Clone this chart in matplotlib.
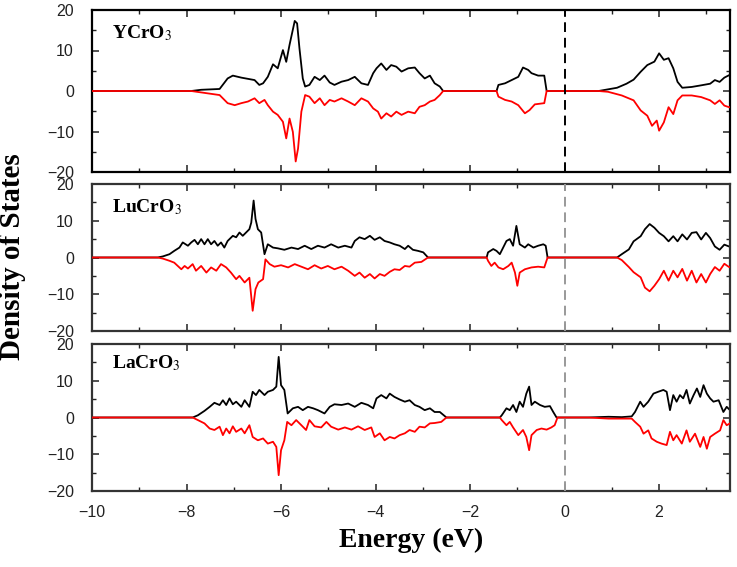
import matplotlib
matplotlib.use("Agg")
import matplotlib.pyplot as plt
from matplotlib.ticker import MultipleLocator

plt.rcParams['font.family'] = ['Liberation Sans', 'DejaVu Sans']
plt.rcParams['mathtext.fontset'] = 'stix'

# -----------------------
# DOS data, energies in eV
# -----------------------
# YCrO3
y_up_e = [-10, -7.9, -7.69, -7.30, -7.13, -7.02, -6.84, -6.70, -6.56, -6.46,
          -6.38, -6.28, -6.17, -6.07, -5.96, -5.89, -5.82, -5.71, -5.66, -5.61,
          -5.54, -5.49, -5.40, -5.29, -5.18, -5.08, -4.97, -4.87, -4.72, -4.58,
          -4.44, -4.30, -4.16, -4.05, -3.98, -3.88, -3.77, -3.67, -3.56, -3.45,
          -3.31, -3.17, -3.07, -2.96, -2.85, -2.75, -2.64, -2.57,
          -1.44, -1.40, -1.26, -1.12, -0.98, -0.88, -0.77, -0.70, -0.56, -0.43,
          -0.38, 0.72, 1.11, 1.31, 1.46, 1.61, 1.75, 1.90, 2.00, 2.10,
          2.20, 2.30, 2.39, 2.49, 2.69, 2.89, 3.08, 3.18, 3.28, 3.38, 3.48, 3.5]
y_up = [0, 0, 0.3, 0.5, 3.1, 3.8, 3.3, 3.0, 2.7, 1.5,
        1.9, 3.5, 6.6, 5.6, 10.1, 7.2, 11.4, 17.3, 16.7, 10.5,
        3.1, 1.1, 1.5, 3.5, 2.7, 3.8, 2.1, 1.5, 2.3, 2.7,
        3.5, 1.9, 1.5, 4.4, 5.6, 6.8, 5.2, 6.4, 6.0, 4.8,
        5.6, 5.8, 4.4, 3.1, 3.8, 1.9, 1.1, 0,
        0, 1.5, 1.9, 2.7, 3.5, 5.8, 5.2, 4.4, 3.8, 3.8,
        0, 0, 0.8, 1.8, 2.8, 4.75, 6.4, 7.25, 9.3, 7.7,
        8.1, 5.6, 2.25, 0.8, 1.0, 1.4, 1.8, 2.7, 2.25, 3.3, 3.9, 3.9]
y_dn_e = [-10, -7.9, -7.30, -7.13, -6.98, -6.84, -6.70, -6.56, -6.46, -6.35, -6.28,
          -6.17, -6.07, -5.96, -5.89, -5.82, -5.75, -5.69, -5.64, -5.57, -5.49,
          -5.40, -5.29, -5.18, -5.08, -4.97, -4.87, -4.72, -4.58, -4.44, -4.30,
          -4.16, -4.05, -3.95, -3.88, -3.77, -3.67, -3.56, -3.45, -3.31, -3.17,
          -3.07, -2.96, -2.85, -2.75, -2.64, -2.57,
          -1.44, -1.40, -1.26, -1.12, -0.98, -0.84, -0.74, -0.63, -0.43, -0.38,
          0.72, 0.92, 1.21, 1.46, 1.61, 1.75, 1.85, 1.95, 2.00, 2.10,
          2.20, 2.30, 2.39, 2.49, 2.69, 2.89, 3.08, 3.18, 3.28, 3.38, 3.48, 3.5]
y_dn = [0, 0, -1, -3, -3.5, -3, -2.6, -1.8, -3, -2.2, -3.5,
        -5.1, -5.9, -7.6, -11.7, -6.8, -10.1, -17.4, -14.2, -5.1, -1,
        -1.4, -3, -1.8, -3.5, -2.2, -2.6, -1.8, -2.6, -3.5, -1.8,
        -2.6, -4.3, -5.1, -6.8, -5.5, -6.3, -5.1, -5.9, -5.1, -5.5,
        -3.9, -3.5, -2.6, -2.2, -1, 0,
        0, -1.4, -2.2, -2.6, -3.5, -5.5, -4.7, -3.3, -3, 0,
        0, -0.2, -1.1, -2.3, -4.8, -6.1, -8.6, -7.3, -9.8, -7.75,
        -4, -5.7, -2.3, -1.1, -1.1, -1.5, -2.3, -3.2, -2.3, -3.6, -4, -4]

# LuCrO3
lu_up_e = [-10, -8.61, -8.50, -8.36, -8.26, -8.15, -8.08, -7.97, -7.90, -7.83,
           -7.76, -7.69, -7.62, -7.55, -7.48, -7.41, -7.34, -7.27, -7.20, -7.13,
           -7.02, -6.95, -6.88, -6.81, -6.74, -6.67, -6.63, -6.58, -6.54, -6.49,
           -6.42, -6.35, -6.28, -6.17, -6.07, -5.93, -5.78, -5.64, -5.50, -5.36,
           -5.22, -5.08, -4.94, -4.79, -4.65, -4.51, -4.44, -4.34, -4.23, -4.12,
           -4.02, -3.91, -3.81, -3.70, -3.60, -3.49, -3.38, -3.31, -3.21, -3.10,
           -2.99, -2.89,
           -1.65, -1.62, -1.51, -1.44, -1.37, -1.30, -1.23, -1.16,
           -1.09, -1.02, -0.95, -0.84, -0.77, -0.66, -0.56, -0.45, -0.40, -0.36,
           1.11, 1.21, 1.36, 1.46, 1.61, 1.70, 1.80, 1.90, 2.00, 2.10,
           2.20, 2.30, 2.39, 2.49, 2.59, 2.69, 2.79, 2.89, 2.99, 3.08,
           3.18, 3.28, 3.38, 3.48, 3.5]
lu_up = [0, 0, 0.3, 0.9, 1.8, 2.7, 4.1, 3.2, 4.1, 4.8,
         3.6, 5.0, 3.6, 5.0, 3.6, 4.5, 3.2, 4.1, 2.7, 4.5,
         5.9, 5.5, 6.8, 5.9, 6.8, 7.7, 9.5, 15.5, 10.5, 7.7,
         6.8, 0.9, 3.6, 2.7, 2.5, 2.1, 2.7, 2.3, 3.2, 2.3,
         3.2, 2.7, 3.6, 2.7, 3.2, 2.7, 4.5, 5.5, 5.0, 5.9,
         4.8, 5.5, 4.5, 4.1, 3.6, 3.2, 2.3, 3.2, 2.1, 1.8,
         1.4, 0,
         0, 1.4, 2.3, 1.8, 0.9, 2.7, 4.5, 5.0,
         3.2, 8.6, 3.6, 2.7, 3.6, 2.7, 3.2, 3.6, 3.2, 0,
         0, 0.9, 2.2, 4.4, 5.8, 7.7, 9.1, 8.1, 6.7, 5.8,
         4.4, 5.8, 4.4, 6.3, 4.9, 6.7, 6.9, 4.9, 6.7, 5.3,
         3.0, 2.1, 3.5, 3.0, 3.0]
lu_dn_e = [-10, -8.61, -8.50, -8.36, -8.26, -8.11, -8.04, -7.97, -7.87, -7.80,
           -7.69, -7.58, -7.48, -7.37, -7.27, -7.16, -7.06, -6.95, -6.88, -6.77,
           -6.67, -6.60, -6.54, -6.48, -6.38, -6.33, -6.24, -6.14, -6.00, -5.85,
           -5.71, -5.57, -5.43, -5.29, -5.15, -5.01, -4.87, -4.72, -4.58, -4.44,
           -4.34, -4.23, -4.12, -4.02, -3.91, -3.81, -3.70, -3.60, -3.49, -3.38,
           -3.28, -3.17, -3.03, -2.89,
           -1.65, -1.62, -1.55, -1.48, -1.40, -1.30,
           -1.19, -1.12, -1.05, -1.00, -0.95, -0.84, -0.70, -0.56, -0.43, -0.36,
           1.11, 1.21, 1.36, 1.46, 1.61, 1.70, 1.80, 1.90, 2.00, 2.10,
           2.20, 2.30, 2.39, 2.49, 2.59, 2.69, 2.79, 2.89, 2.99, 3.08,
           3.18, 3.28, 3.38, 3.48, 3.5]
lu_dn = [0, 0, -0.3, -0.9, -1.4, -3.2, -2.3, -3.0, -1.8, -3.6,
         -2.3, -4.1, -2.7, -3.6, -1.8, -2.7, -4.1, -5.9, -5.0, -6.8,
         -5.5, -14.5, -8.6, -6.8, -5.9, -0.5, -1.8, -2.5, -2.1, -2.7,
         -1.8, -2.5, -3.2, -2.1, -3.0, -2.3, -3.2, -2.5, -3.6, -5.0,
         -4.1, -5.5, -4.5, -5.7, -4.5, -5.0, -3.9, -3.2, -3.4, -2.3,
         -2.5, -1.4, -1.2, 0,
         0, -0.9, -2.3, -1.4, -2.7, -3.2,
         -2.3, -1.4, -4.1, -7.7, -4.1, -3.2, -2.7, -2.5, -2.7, 0,
         0, -0.7, -2.6, -4.0, -5.4, -8.2, -9.2, -7.7, -5.9, -3.6,
         -6.3, -3.6, -5.4, -3.1, -6.3, -3.6, -6.8, -4.5, -6.8, -4.5,
         -2.6, -3.6, -1.7, -2.6, -2.6]

# LaCrO3
la_up_e = [-10, -7.87, -7.76, -7.62, -7.51, -7.41, -7.30, -7.23, -7.16, -7.09,
           -7.02, -6.95, -6.84, -6.77, -6.67, -6.60, -6.53, -6.46, -6.35, -6.28,
           -6.17, -6.10, -6.05, -6.00, -5.93, -5.86, -5.75, -5.64, -5.54, -5.43,
           -5.32, -5.22, -5.08, -4.97, -4.87, -4.72, -4.58, -4.44, -4.30, -4.16,
           -4.05, -3.98, -3.88, -3.77, -3.70, -3.60, -3.49, -3.38, -3.28, -3.17,
           -3.07, -2.96, -2.85, -2.75, -2.64, -2.50,
           -1.37, -1.33, -1.23, -1.16,
           -1.09, -1.02, -0.95, -0.88, -0.81, -0.75, -0.70, -0.63, -0.52, -0.42,
           -0.31, -0.24, -0.17,
           0.50, 0.93, 1.21, 1.42, 1.49, 1.60, 1.67,
           1.77, 1.88, 1.98, 2.09, 2.16, 2.23, 2.30, 2.37, 2.44, 2.51,
           2.58, 2.65, 2.73, 2.80, 2.87, 2.94, 3.01, 3.08, 3.15, 3.26,
           3.36, 3.43, 3.50]
la_up = [0, 0, 0.6, 1.8, 2.9, 4.0, 3.4, 4.7, 3.4, 5.2,
         3.6, 4.3, 2.9, 4.7, 2.9, 7.0, 6.1, 7.5, 6.1, 7.0,
         7.5, 8.4, 16.5, 8.8, 7.5, 1.1, 2.5, 2.9, 2.0, 2.9,
         2.5, 2.0, 1.1, 2.9, 3.6, 3.4, 3.8, 2.9, 4.0, 3.4,
         2.5, 5.2, 6.1, 5.2, 6.5, 5.6, 4.9, 4.3, 4.7, 3.4,
         2.9, 2.0, 2.5, 1.5, 1.5, 0,
         0, 0.6, 2.5, 2.0,
         3.4, 1.5, 4.3, 2.9, 6.5, 8.4, 3.4, 4.3, 3.4, 2.9,
         3.1, 1.5, 0,
         0, 0.2, 0.1, 0.3, 1.5, 4.3, 2.9,
         4.3, 6.5, 7.0, 7.5, 7.0, 2.0, 6.1, 4.3, 6.1, 5.2,
         7.5, 3.8, 6.1, 7.9, 5.6, 8.8, 6.5, 5.2, 4.3, 4.7,
         1.5, 2.9, 2.0]
la_dn_e = [-10, -7.87, -7.76, -7.62, -7.51, -7.41, -7.30, -7.23, -7.16, -7.09,
           -7.02, -6.95, -6.84, -6.77, -6.67, -6.60, -6.49, -6.38, -6.28, -6.17,
           -6.10, -6.05, -6.00, -5.93, -5.87, -5.78, -5.68, -5.57, -5.47, -5.40,
           -5.29, -5.15, -5.04, -4.94, -4.79, -4.65, -4.51, -4.37, -4.23, -4.09,
           -4.02, -3.91, -3.81, -3.70, -3.60, -3.49, -3.38, -3.28, -3.17, -3.07,
           -2.96, -2.85, -2.75, -2.61, -2.50,
           -1.37, -1.33, -1.23, -1.16, -1.09,
           -0.98, -0.88, -0.81, -0.75, -0.70, -0.59, -0.49, -0.38, -0.28, -0.21,
           -0.15,
           0.50, 0.93, 1.42, 1.49, 1.60, 1.67, 1.77, 1.84, 1.95,
           2.05, 2.16, 2.23, 2.30, 2.37, 2.48, 2.58, 2.65, 2.76, 2.87,
           2.94, 3.01, 3.08, 3.18, 3.29, 3.36, 3.43, 3.50]
la_dn = [0, 0, -0.7, -1.6, -3.0, -3.4, -2.5, -4.8, -3.0, -4.3,
         -2.4, -3.9, -3.0, -4.3, -2.1, -5.3, -6.2, -5.7, -7.1, -6.6,
         -8.0, -15.7, -8.9, -6.2, -1.2, -2.1, -0.7, -2.1, -3.4, -0.7,
         -2.4, -2.7, -1.2, -2.5, -3.3, -2.7, -3.3, -2.4, -3.4, -2.7,
         -5.3, -4.3, -6.2, -5.3, -5.7, -4.8, -4.3, -3.4, -3.9, -2.5,
         -2.7, -1.6, -1.5, -1.2, 0,
         0, -0.7, -2.1, -1.2, -2.7,
         -4.8, -3.4, -5.3, -8.9, -4.8, -3.4, -3.0, -3.3, -2.7, -2.1,
         0,
         0, -0.3, -0.3, -1.2, -2.5, -4.4, -3.5, -5.7, -6.6,
         -7.1, -7.5, -3.9, -6.2, -4.8, -7.1, -3.5, -6.6, -4.4, -8.0,
         -5.3, -8.5, -5.3, -4.4, -3.5, -0.7, -2.1, -1.6]

names = [r'YCrO$_3$', r'LuCrO$_3$', r'LaCrO$_3$']
panels = [(y_up_e, y_up, y_dn_e, y_dn),
          (lu_up_e, lu_up, lu_dn_e, lu_dn),
          (la_up_e, la_up, la_dn_e, la_dn)]

# axes boxes in figure fractions [left, bottom, width, height]
LEFT = 92 / 737
WIDTH = (730 - 92) / 737
boxes = [(10, 172), (184, 331), (344, 491)]   # pixel top/bottom
label_y = [0.858, 0.843, 0.87]
fermi_col = ['black', '#999999', '#999999']
spine_col = ['black', '#333333', '#333333']

fig = plt.figure(figsize=(7.37, 5.67), dpi=100)

for i, ((ue, uv, de, dv), name) in enumerate(zip(panels, names)):
    top, bot = boxes[i]
    ax = fig.add_axes([LEFT, 1 - bot / 567, WIDTH, (bot - top) / 567])
    ax.plot(ue, uv, color='black', lw=1.3, zorder=2)
    ax.plot(de, dv, color='red', lw=1.3, zorder=3)
    ax.axvline(0, color=fermi_col[i], lw=1.4, ls=(0, (5, 3)), zorder=4)
    ax.set_xlim(-10, 3.5)
    ax.set_ylim(-20, 20)
    ax.xaxis.set_major_locator(MultipleLocator(2))
    ax.xaxis.set_minor_locator(MultipleLocator(1))
    ax.yaxis.set_major_locator(MultipleLocator(10))
    ax.yaxis.set_minor_locator(MultipleLocator(5))
    ax.tick_params(which='both', direction='in', top=True, right=True,
                   labelsize=11.5, colors='#222222')
    ax.tick_params(axis='y', pad=13)
    ax.tick_params(axis='x', pad=10)
    ax.tick_params(which='major', length=5, width=1.1)
    ax.tick_params(which='minor', length=3, width=1.0)
    for sp in ax.spines.values():
        sp.set_linewidth(1.6)
        sp.set_color(spine_col[i])
    if i < 2:
        ax.tick_params(labelbottom=False)
    ax.text(0.032, label_y[i], name, transform=ax.transAxes, ha='left',
            va='center', fontsize=14, family='Liberation Serif',
            fontweight='bold')

fig.text(411 / 737, 1 - 540 / 567, 'Energy (eV)', ha='center', va='center',
         fontsize=20, family='Liberation Serif', fontweight='bold')
fig.text(13 / 737, 1 - 257 / 567, 'Density of States', ha='center',
         va='center', rotation=90, fontsize=21, family='Liberation Serif',
         fontweight='bold')

fig.savefig('out.png', dpi=100)
